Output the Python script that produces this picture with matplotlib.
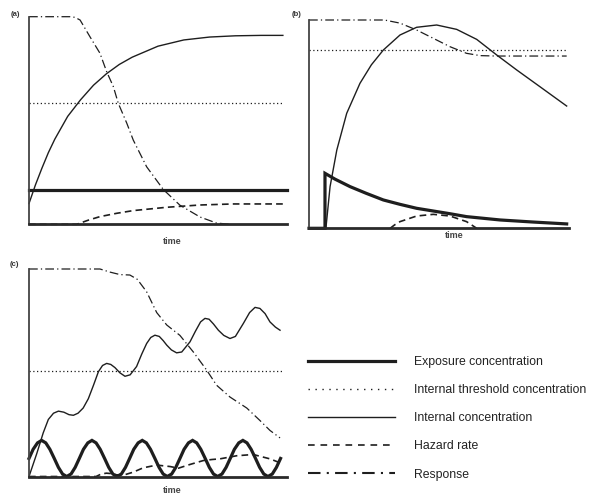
import matplotlib
matplotlib.use("Agg")
import matplotlib.pyplot as plt
from matplotlib.lines import Line2D

plt.rcParams['font.family'] = ['Liberation Sans', 'DejaVu Sans']

# ---- panel (a): constant exposure ----
a_exposure_t = [0, 10]
a_exposure = [0.167, 0.167]
a_threshold_t = [0, 9.84]
a_threshold = [0.583, 0.583]
a_internal_t = [0, 0.25, 0.5, 0.75, 1, 1.5, 2, 2.5, 3, 3.5, 4, 5, 6, 7, 8, 9, 9.84]
a_internal = [0.10, 0.19, 0.27, 0.345, 0.41, 0.52, 0.60, 0.67, 0.725, 0.77, 0.805, 0.858, 0.888, 0.902, 0.908, 0.91, 0.91]
a_hazard_t = [0, 1.85, 2.3, 2.75, 3.4, 4.04, 5.34, 6.63, 7.92, 9.84]
a_hazard = [0, 0, 0.02, 0.037, 0.053, 0.066, 0.082, 0.093, 0.098, 0.098]
a_response_t = [0, 1.59, 1.78, 1.98, 2.36, 2.75, 3.01, 3.27, 3.46, 3.79, 4.04, 4.56, 5.21, 5.85, 6.63, 7.27, 7.79]
a_response = [1, 1, 0.997, 0.984, 0.904, 0.824, 0.735, 0.663, 0.583, 0.487, 0.406, 0.277, 0.167, 0.092, 0.035, 0.006, 0]

# ---- panel (b): pulse exposure ----
b_exposure_t = [0, 0.615, 0.615, 1.0, 1.58, 2.2, 2.86, 3.5, 4.14, 5.42, 6.06, 7.35, 8.63, 9.91]
b_exposure = [0, 0, 0.264, 0.236, 0.2, 0.168, 0.136, 0.115, 0.096, 0.07, 0.056, 0.04, 0.03, 0.021]
b_threshold_t = [0, 9.91]
b_threshold = [0.856, 0.856]
b_internal_t = [0.65, 0.81, 1.07, 1.45, 1.96, 2.4, 2.86, 3.5, 4.14, 4.91, 5.68, 6.45, 7.22, 7.99, 8.88, 9.91]
b_internal = [0, 0.2, 0.376, 0.552, 0.696, 0.785, 0.856, 0.928, 0.965, 0.976, 0.955, 0.907, 0.832, 0.76, 0.68, 0.587]
b_hazard_t = [3.12, 3.3, 3.5, 4.14, 4.78, 5.42, 6.06, 6.45]
b_hazard = [0, 0.017, 0.032, 0.059, 0.067, 0.059, 0.032, 0.0]
b_response_t = [0, 2.9, 3.5, 4.14, 4.78, 5.42, 6.06, 6.58, 7.2, 9.91]
b_response = [1, 1, 0.985, 0.952, 0.912, 0.872, 0.84, 0.829, 0.827, 0.827]

# ---- panel (c): fluctuating exposure ----
c_exposure_t = [0.00, 0.16, 0.33, 0.49, 0.65, 0.81, 0.98, 1.14, 1.30, 1.46, 1.63, 1.79,
                1.95, 2.11, 2.28, 2.44, 2.60, 2.76, 2.93, 3.09, 3.25, 3.41, 3.58, 3.74,
                3.90, 4.06, 4.23, 4.39, 4.55, 4.71, 4.88, 5.04, 5.20, 5.36, 5.53, 5.69,
                5.85, 6.01, 6.18, 6.34, 6.50, 6.66, 6.83, 6.99, 7.15, 7.31, 7.48, 7.64,
                7.80, 7.96, 8.13, 8.29, 8.45, 8.61, 8.78, 8.94, 9.10, 9.26, 9.43, 9.59,
                9.75]
c_exposure = [0.087, 0.131, 0.162, 0.174, 0.162, 0.131, 0.087, 0.044, 0.012, 0.0, 0.012, 0.044,
              0.087, 0.131, 0.162, 0.174, 0.162, 0.131, 0.087, 0.044, 0.012, 0.0, 0.012, 0.044,
              0.087, 0.131, 0.162, 0.174, 0.162, 0.131, 0.087, 0.044, 0.012, 0.0, 0.012, 0.044,
              0.087, 0.131, 0.162, 0.174, 0.162, 0.131, 0.087, 0.044, 0.012, 0.0, 0.012, 0.044,
              0.087, 0.131, 0.162, 0.174, 0.162, 0.131, 0.087, 0.044, 0.012, 0.0, 0.012, 0.044,
              0.087]
c_threshold_t = [0, 9.86]
c_threshold = [0.51, 0.51]
c_internal_t = [0, 0.3, 0.55, 0.75, 0.95, 1.14, 1.35, 1.55, 1.72, 1.9, 2.1, 2.3, 2.5, 2.69, 2.85,
                3.01, 3.17, 3.33, 3.52, 3.72, 3.92, 4.17, 4.37, 4.56, 4.72, 4.88, 5.05, 5.2, 5.34,
                5.52, 5.72, 5.92, 6.24, 6.45, 6.65, 6.82, 6.98, 7.15, 7.34, 7.55, 7.79, 8.0, 8.31,
                8.55, 8.76, 8.95, 9.15, 9.34, 9.55, 9.73]
c_internal = [0, 0.11, 0.21, 0.275, 0.305, 0.315, 0.31, 0.298, 0.295, 0.305, 0.33, 0.375, 0.44,
              0.505, 0.535, 0.545, 0.54, 0.525, 0.5, 0.483, 0.49, 0.53, 0.59, 0.641, 0.67, 0.681,
              0.675, 0.655, 0.633, 0.61, 0.596, 0.6, 0.649, 0.7, 0.745, 0.762, 0.758, 0.735, 0.705,
              0.68, 0.665, 0.675, 0.738, 0.79, 0.815, 0.81, 0.785, 0.745, 0.72, 0.705]
c_hazard_t = [0, 2.6, 2.8, 3.0, 3.2, 3.4, 3.7, 4.04, 4.43, 4.95, 5.47, 5.79, 6.24, 6.76, 7.1, 7.4,
              8.05, 8.69, 9.34, 9.73]
c_hazard = [0, 0, 0.012, 0.016, 0.014, 0.008, 0.008, 0.021, 0.042, 0.055, 0.048, 0.040, 0.058,
            0.077, 0.082, 0.085, 0.1, 0.106, 0.085, 0.066]
c_response_t = [0, 2.75, 3.14, 3.53, 3.91, 4.2, 4.56, 4.95, 5.34, 5.85, 6.37, 6.89, 7.27, 7.79,
                8.44, 8.95, 9.34, 9.73]
c_response = [1, 1, 0.985, 0.973, 0.971, 0.95, 0.89, 0.79, 0.73, 0.68, 0.6, 0.512, 0.44, 0.383,
              0.33, 0.27, 0.222, 0.186]

panel_labels = ['(a)', '(b)', '(c)']
x_label = 'time'
legend_labels = ['Exposure concentration', 'Internal threshold concentration',
                 'Internal concentration', 'Hazard rate', 'Response']

INK = '#1e1e1e'
styles = {
    'exposure': dict(color=INK, lw=2.3, ls='-'),
    'threshold': dict(color=INK, lw=0.9, ls=(0, (1, 2))),
    'internal': dict(color=INK, lw=1.0, ls='-'),
    'hazard': dict(color=INK, lw=1.2, ls=(0, (4, 2.5))),
    'response': dict(color=INK, lw=0.9, ls=(0, (7, 2.5, 1, 2.5))),
}

W, H = 589, 494
fig = plt.figure(figsize=(W / 100, H / 100), dpi=100)


def px_axes(left, top, right, bottom):
    return fig.add_axes([left / W, 1 - bottom / H, (right - left) / W, (bottom - top) / H])


def style_axes(ax):
    ax.set_xlim(0, 10)
    ax.set_ylim(0, 1)
    ax.set_xticks([])
    ax.set_yticks([])
    ax.patch.set_alpha(0)
    for s in ['top', 'right']:
        ax.spines[s].set_visible(False)
    ax.spines['left'].set_color('#444444')
    ax.spines['left'].set_linewidth(1.3)
    ax.spines['bottom'].set_color('#2a2a2a')
    ax.spines['bottom'].set_linewidth(2.0)


def draw_panel(ax, exp_t, exp, thr_t, thr, int_t, intl, haz_t, haz, resp_t, resp):
    ax.plot(thr_t, thr, clip_on=False, **styles['threshold'])
    ax.plot(haz_t, haz, clip_on=False, **styles['hazard'])
    ax.plot(resp_t, resp, clip_on=False, **styles['response'])
    ax.plot(int_t, intl, clip_on=False, **styles['internal'])
    ax.plot(exp_t, exp, clip_on=False, solid_joinstyle='miter', **styles['exposure'])


ax_a = px_axes(29, 16.7, 287, 224.3)
ax_b = px_axes(309, 20, 569, 228.3)
ax_c = px_axes(29, 269, 287, 476.5)
for ax in (ax_a, ax_b, ax_c):
    style_axes(ax)

draw_panel(ax_a, a_exposure_t, a_exposure, a_threshold_t, a_threshold, a_internal_t, a_internal,
           a_hazard_t, a_hazard, a_response_t, a_response)
draw_panel(ax_b, b_exposure_t, b_exposure, b_threshold_t, b_threshold, b_internal_t, b_internal,
           b_hazard_t, b_hazard, b_response_t, b_response)
draw_panel(ax_c, c_exposure_t, c_exposure, c_threshold_t, c_threshold, c_internal_t, c_internal,
           c_hazard_t, c_hazard, c_response_t, c_response)

# panel letters and axis titles
label_pos = [(15, 15), (297, 15), (14, 265)]
for lab, (x, y) in zip(panel_labels, label_pos):
    fig.text(x / W, 1 - y / H, lab, fontsize=5.5, fontweight='bold', color='#333333',
             ha='center', va='center')
time_pos = [(172, 241), (454, 235), (172, 490)]
for x, y in time_pos:
    fig.text(x / W, 1 - y / H, x_label, fontsize=6.5, fontweight='bold', color='#444444',
             ha='center', va='center')

# legend
handles = [
    Line2D([], [], color=INK, lw=2.3, ls='-'),
    Line2D([], [], color=INK, lw=1.0, ls=(0, (1, 4))),
    Line2D([], [], color=INK, lw=1.0, ls='-'),
    Line2D([], [], color=INK, lw=1.2, ls=(0, (4, 3.5))),
    Line2D([], [], color=INK, lw=1.5, ls=(0, (6, 3, 1, 3))),
]
leg = fig.legend(handles, legend_labels, loc='upper left',
                 bbox_to_anchor=(308 / W, 1 - 356 / H), frameon=False,
                 fontsize=8.8, handlelength=7.1, handletextpad=1.6,
                 labelspacing=1.32, borderpad=0, borderaxespad=0)
for t in leg.get_texts():
    t.set_color('#222222')

fig.savefig('out.png', dpi=100)
